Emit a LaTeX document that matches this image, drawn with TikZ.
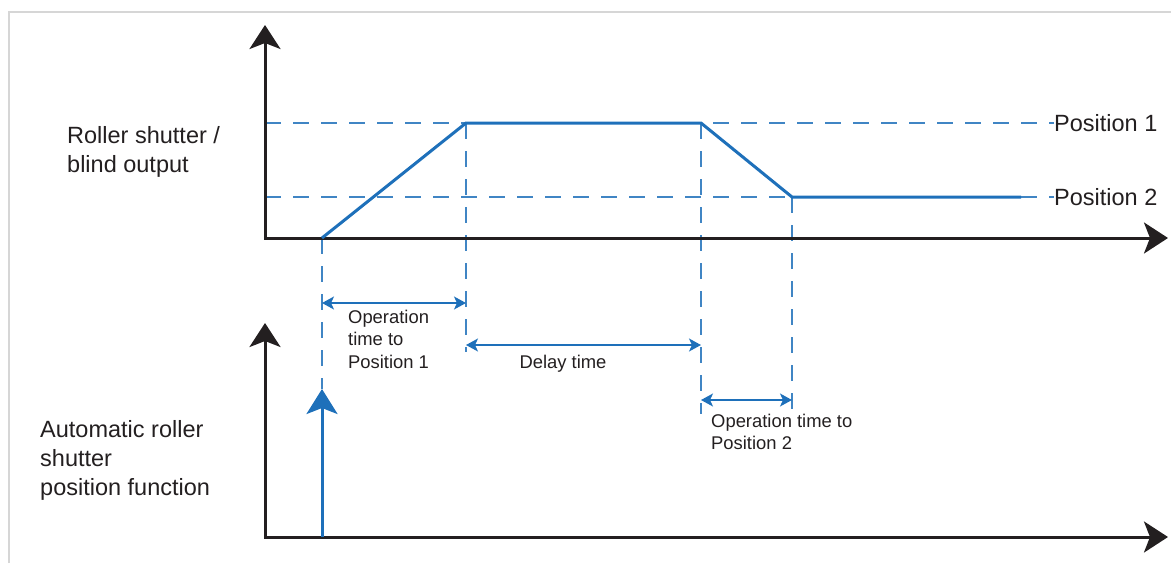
\documentclass[tikz,border=0pt]{standalone}
\usepackage{fontspec}
\setmainfont{Liberation Sans}
\usepackage{tikz}
\usetikzlibrary{positioning, calc, arrows.meta}
\definecolor{shutterBlue}{RGB}{30, 112, 186}
\definecolor{axisBlack}{RGB}{35, 31, 32}
\definecolor{frameGray}{RGB}{214, 214, 214}

\begin{document}
\begin{tikzpicture}[
    x=1pt, y=-1pt,
    axis/.style={{Stealth[length=24pt, width=31pt, inset=6pt]}-{Stealth[length=24pt, width=31pt, inset=6pt]},
                 line width=3pt, draw=axisBlack},
    curve/.style={line width=3pt, draw=shutterBlue},
    trigger/.style={-{Stealth[length=25pt, width=31pt, inset=6pt]}, line width=3pt, draw=shutterBlue},
    guide/.style={draw=shutterBlue!85, line width=1.4pt, dash pattern=on 16pt off 12pt},
    dim/.style={{Stealth[length=12pt, width=13pt, inset=3pt]}-{Stealth[length=12pt, width=13pt, inset=3pt]},
                line width=1.6pt, draw=shutterBlue},
    biglabel/.style={font=\fontsize{23.5}{29}\selectfont, text=axisBlack,
                     inner sep=0pt, align=left, anchor=west},
    smalllabel/.style={font=\fontsize{18.4}{22.5}\selectfont, text=axisBlack,
                       inner sep=0pt, align=left},
  ]
    \useasboundingbox (0,0) rectangle (1171,563);
    % Frame
    \draw[frameGray, line width=2pt] (9,563) -- (9,12) -- (1171,12);

    % Upper chart: roller shutter output
    \coordinate (O1) at (265,238);
    \coordinate (Y1) at (265,25);
    \coordinate (X1) at (1168,238);
    \node[biglabel] (OUT) at (67,152) {Roller shutter /\\blind output};
    \node[biglabel] (P1) at (1054,123) {Position 1};
    \node[biglabel] (P2) at (1054,197) {Position 2};
    \coordinate (A0) at (322,238);
    \coordinate (A1) at (466,123);
    \coordinate (A2) at (701,123);
    \coordinate (A3) at (792,197);
    \coordinate (A4) at (1021,197);
    \draw[guide] (O1 |- P1) -- (P1.west);
    \draw[guide] (O1 |- P2) -- (P2.west);

    % Lower chart: automatic position function
    \coordinate (O2) at (265,537);
    \coordinate (Y2) at (265,323);
    \coordinate (X2) at (1168,537);
    \node[biglabel] (FUNC) at (40,460) {Automatic roller\\shutter\\position function};
    \coordinate (T0) at (A0 |- O2);
    \coordinate (T1) at (322,389);

    % Vertical guides
    \draw[guide] (A0) -- (T1);
    \draw[guide] (A1) -- (466,352);
    \draw[guide] (A2) -- (701,414);
    \draw[guide] (A3) -- (792,420);

    % Axes and curves
    \draw[axis] (Y1) -- (O1) -- (X1);
    \draw[axis] (Y2) -- (O2) -- (X2);
    \draw[curve] (A0) -- (A1) -- (A2) -- (A3) -- (A4);
    \draw[trigger] (T0) -- (T1);

    % Time spans
    \draw[dim] (322,303) -- (466,303);
    \node[smalllabel, anchor=west] (OP1) at (348,339) {Operation\\time to\\Position 1};
    \draw[dim] (466,345) -- (701,345);
    \node[smalllabel] (DLY) at (563,364) {Delay time};
    \draw[dim] (701,400) -- (792,400);
    \node[smalllabel, anchor=west] (OP2) at (711,432) {Operation time to\\Position 2};
  \end{tikzpicture}
\end{document}
